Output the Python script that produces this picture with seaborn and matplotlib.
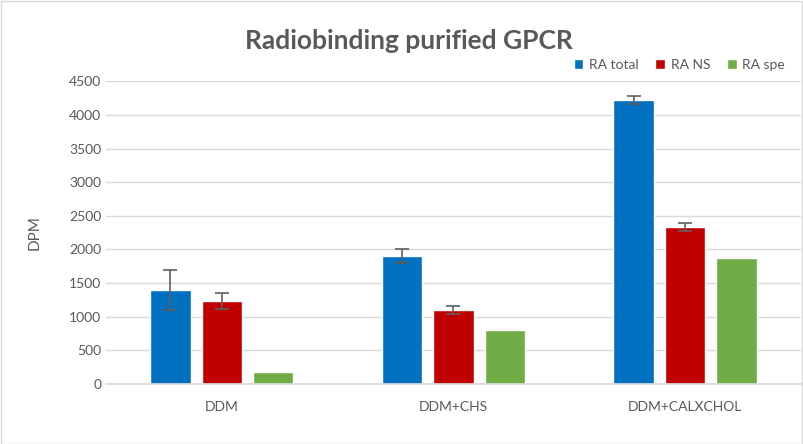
import pandas as pd
import matplotlib
matplotlib.use("Agg")
import matplotlib.pyplot as plt
import seaborn as sns

conditions = ["DDM", "DDM+CHS", "DDM+CALXCHOL"]
series = ["RA total", "RA NS", "RA spe"]
ra_total = [1400, 1905, 4215]
ra_ns = [1235, 1100, 2335]
ra_spe = [175, 800, 1878]
err_total = [300, 105, 60]
err_ns = [125, 60, 60]
err_spe = [0, 0, 0]
colors = ["#0070C0", "#C00000", "#70AD47"]

rows = []
for s, vals, errs in zip(series, [ra_total, ra_ns, ra_spe], [err_total, err_ns, err_spe]):
    for c, v, e in zip(conditions, vals, errs):
        rows.append({"condition": c, "series": s, "DPM": v, "err": e})
df = pd.DataFrame(rows)

sns.set_theme(style="white")
plt.rcParams["font.family"] = ["Lato", "DejaVu Sans"]
text_col = "#595959"

fig = plt.figure(figsize=(8.04, 4.44), dpi=100)
ax = fig.add_axes([0.132, 0.135, 0.864, 0.682])

sns.barplot(data=df, x="condition", y="DPM", hue="series", palette=colors,
            width=0.667, gap=0.22, errorbar=None, ax=ax, saturation=1)

# error bars from the drawn bars
for patch_group, s in zip(ax.containers, series):
    sub = df[df["series"] == s]
    for patch, (_, r) in zip(patch_group, sub.iterrows()):
        if r["err"] > 0:
            xc = patch.get_x() + patch.get_width() / 2
            ax.errorbar(xc, r["DPM"], yerr=r["err"], color="#5f5f5f",
                        capsize=5, elinewidth=1.2, capthick=1.2)

ax.set_ylim(0, 4500)
ax.set_yticks(range(0, 4501, 500))
ax.set_xlim(-0.5, 2.5)
ax.yaxis.grid(True, color="#D9D9D9", linewidth=1)
ax.set_axisbelow(True)
for side in ["left", "right", "top"]:
    ax.spines[side].set_visible(False)
ax.spines["bottom"].set_color("#D9D9D9")
ax.tick_params(axis="both", length=0, colors=text_col, labelsize=10)
ax.tick_params(axis="x", pad=12)
ax.set_xlabel("")
ax.set_ylabel("DPM", color=text_col, fontsize=11, labelpad=20)

ax.legend(loc="upper right", bbox_to_anchor=(0.995, 1.115), ncol=3, frameon=False,
          fontsize=10, handlelength=0.7, handleheight=0.7, handletextpad=0.4,
          columnspacing=1.2, labelcolor=text_col)

fig.suptitle("Radiobinding purified GPCR", x=0.508, y=0.935, fontsize=19,
             fontweight="bold", color=text_col)

border = plt.Rectangle((0.001, 0.001), 0.997, 0.997, transform=fig.transFigure,
                       fill=False, edgecolor="#D9D9D9", linewidth=1)
fig.patches.append(border)

fig.savefig("out.png", dpi=100)
